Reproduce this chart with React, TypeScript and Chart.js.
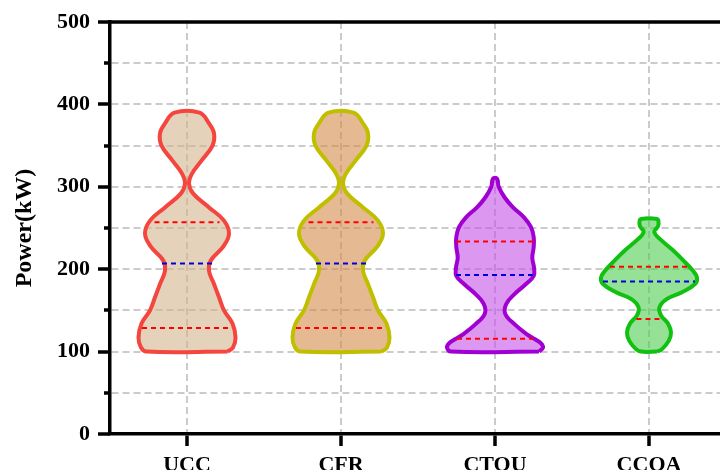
import React, { useEffect, useRef } from 'react';
import { Chart, registerables } from 'chart.js';

Chart.register(...registerables);

// ---------- data ----------
const categories = ['UCC', 'CFR', 'CTOU', 'CCOA'];

// violin outlines: power levels (kW) and half-widths (density, px-equivalent at 154 px per category)
const uccLevels = [100, 105, 117, 134, 150, 166, 182, 198, 211, 227, 243, 259, 275, 292, 304, 316, 332, 350, 365, 377, 390];
const uccDensity = [40.5, 46, 48.5, 45.5, 37, 32, 27, 22, 24, 36, 42, 37, 22, 6, 2, 5, 14.7, 25.5, 27, 22, 12.5];

const cfrLevels = [100, 105, 117, 134, 150, 166, 182, 198, 211, 227, 243, 259, 275, 292, 304, 316, 332, 350, 365, 377, 390];
const cfrDensity = [40.5, 46, 48.5, 45.5, 37, 32, 27, 22, 24, 36, 42, 37, 22, 6, 2, 5, 14.7, 25.5, 27, 22, 12.5];

const ctouLevels = [100, 105, 110, 115, 121, 133, 146, 158, 170, 182, 192, 202, 214, 227, 239, 251, 263, 275, 287, 300, 310];
const ctouDensity = [44, 48, 46, 40, 32, 19.7, 10.2, 11.3, 19.7, 31, 38.7, 39, 37.3, 38.7, 38.7, 36, 29, 18, 9.7, 3.7, 2];

const ccoaLevels = [100, 103, 113, 123, 134, 144, 154, 164, 172, 182, 190, 198, 211, 223, 235, 245, 252, 258, 261];
const ccoaDensity = [8, 13, 19.7, 22, 19, 12, 10.5, 18, 33, 46, 48, 44, 34, 24, 12.5, 5.3, 9, 9.5, 8];

// quartiles (kW) and the half-widths of their marker lines (density units)
const q1Values = [128.6, 128.6, 115.6, 139.5];
const medianValues = [207, 207, 193, 185];
const q3Values = [257, 257, 233.6, 203];
const q1Widths = [45, 45, 38, 12.5];
const medianWidths = [25, 25, 39, 46];
const q3Widths = [32.5, 32.5, 39, 39];

const strokeColors = ['#f4453f', '#bfbf00', '#a000d2', '#12c012'];
const fillColors = [
  'rgba(210,180,140,0.6)',
  'rgba(212,138,72,0.6)',
  'rgba(196,82,230,0.6)',
  'rgba(78,205,78,0.6)',
];

const violinLevels = [uccLevels, cfrLevels, ctouLevels, ccoaLevels];
const violinDensity = [uccDensity, cfrDensity, ctouDensity, ccoaDensity];

const DENSITY_SCALE = 1 / 154;
const FONT = "'Liberation Serif', 'Times New Roman', serif";

function outline(center: number, levels: number[], dens: number[]) {
  const right = levels.map((v, k) => ({ x: center + dens[k] * DENSITY_SCALE, y: v }));
  const left = levels
    .map((v, k) => ({ x: center - dens[k] * DENSITY_SCALE, y: v }))
    .reverse();
  return [...right, ...left, right[0]];
}

function hLine(center: number, value: number, w: number) {
  return [
    { x: center - w * DENSITY_SCALE, y: value },
    { x: center + w * DENSITY_SCALE, y: value },
  ];
}

const yTicksPlugin = {
  id: 'yTicksMarks',
  afterDraw(chart: any) {
    const y = chart.scales.y;
    const { ctx, chartArea } = chart;
    ctx.save();
    ctx.strokeStyle = '#000';
    ctx.lineWidth = 3.5;
    y.ticks.forEach((t: any) => {
      const py = Math.round(y.getPixelForValue(t.value));
      const len = t.value % 100 === 0 ? 12 : 6;
      ctx.beginPath();
      ctx.moveTo(chartArea.left - len, py);
      ctx.lineTo(chartArea.left, py);
      ctx.stroke();
    });
    // top and right frame
    ctx.beginPath();
    ctx.moveTo(chartArea.left - 1.75, chartArea.top);
    ctx.lineTo(chartArea.right, chartArea.top);
    ctx.lineTo(chartArea.right, chartArea.bottom);
    ctx.stroke();
    ctx.restore();
  },
};

export default function App() {
  const ref = useRef<HTMLCanvasElement | null>(null);

  useEffect(() => {
    if (!ref.current) return;
    const datasets: any[] = [];
    categories.forEach((_, i) => {
      datasets.push({
        data: hLine(i, q1Values[i], q1Widths[i]),
        borderColor: '#ff0000',
        borderWidth: 2,
        borderDash: [5, 4],
        pointRadius: 0,
        fill: false,
        tension: 0,
        order: 0,
      });
      datasets.push({
        data: hLine(i, q3Values[i], q3Widths[i]),
        borderColor: '#ff0000',
        borderWidth: 2,
        borderDash: [5, 4],
        pointRadius: 0,
        fill: false,
        tension: 0,
        order: 0,
      });
      datasets.push({
        data: hLine(i, medianValues[i], medianWidths[i]),
        borderColor: '#0000dd',
        borderWidth: 2,
        borderDash: [5, 4],
        pointRadius: 0,
        fill: false,
        tension: 0,
        order: 0,
      });
    });
    categories.forEach((_, i) => {
      datasets.push({
        data: outline(i, violinLevels[i], violinDensity[i]),
        borderColor: strokeColors[i],
        backgroundColor: fillColors[i],
        borderWidth: 4,
        pointRadius: 0,
        fill: 'shape',
        tension: 0.4,
        order: 1,
      });
    });

    const chart = new Chart(ref.current, {
      type: 'line',
      data: { datasets },
      options: {
        responsive: false,
        animation: false,
        devicePixelRatio: 1,
        layout: { padding: { left: 0, top: 22, right: 34, bottom: 16 }, autoPadding: false },
        plugins: { legend: { display: false }, tooltip: { enabled: false } },
        scales: {
          x: {
            type: 'linear',
            min: -0.5,
            max: 3.5,
            bounds: 'data',
            afterBuildTicks: (s: any) => {
              s.ticks = categories.map((_, i) => ({ value: i }));
            },
            afterFit: (s: any) => {
              s.height = 50;
              s.paddingLeft = 0;
              s.paddingRight = 0;
            },
            ticks: {
              autoSkip: false,
              maxRotation: 0,
              padding: 6,
              color: '#000',
              font: { family: FONT, size: 22, weight: 'bold' },
              callback: (v: any) => categories[v] ?? '',
            },
            grid: {
              color: '#cbcbcb',
              lineWidth: 2,
              tickLength: 12,
              tickColor: '#000',
              tickWidth: 3.5,
              tickBorderDash: [],
            },
            border: { display: true, color: '#000', width: 3.5, dash: [7, 4] },
          },
          y: {
            type: 'linear',
            min: 0,
            max: 500,
            afterFit: (s: any) => {
              s.width = 110;
              s.paddingTop = 0;
              s.paddingBottom = 0;
            },
            ticks: {
              stepSize: 50,
              padding: 20,
              color: '#000',
              font: { family: FONT, size: 22, weight: 'bold' },
              callback: (v: any) => (v % 100 === 0 ? String(v) : ''),
            },
            grid: {
              color: '#cbcbcb',
              lineWidth: 2,
              drawTicks: false,
            },
            border: { display: true, color: '#000', width: 3.5, dash: [7, 4] },
            title: {
              display: true,
              text: 'Power(kW)',
              color: '#000',
              font: { family: FONT, size: 24, weight: 'bold' },
              padding: { top: 10, bottom: 0 },
            },
          },
        },
      },
      plugins: [yTicksPlugin],
    } as any);
    return () => chart.destroy();
  }, []);

  return (
    <div
      style={{
        position: 'fixed',
        left: 0,
        top: 0,
        width: 720,
        height: 470,
        overflow: 'hidden',
        background: '#fff',
      }}
    >
      <canvas ref={ref} width={760} height={500} style={{ display: 'block', width: 760, height: 500 }} />
    </div>
  );
}
